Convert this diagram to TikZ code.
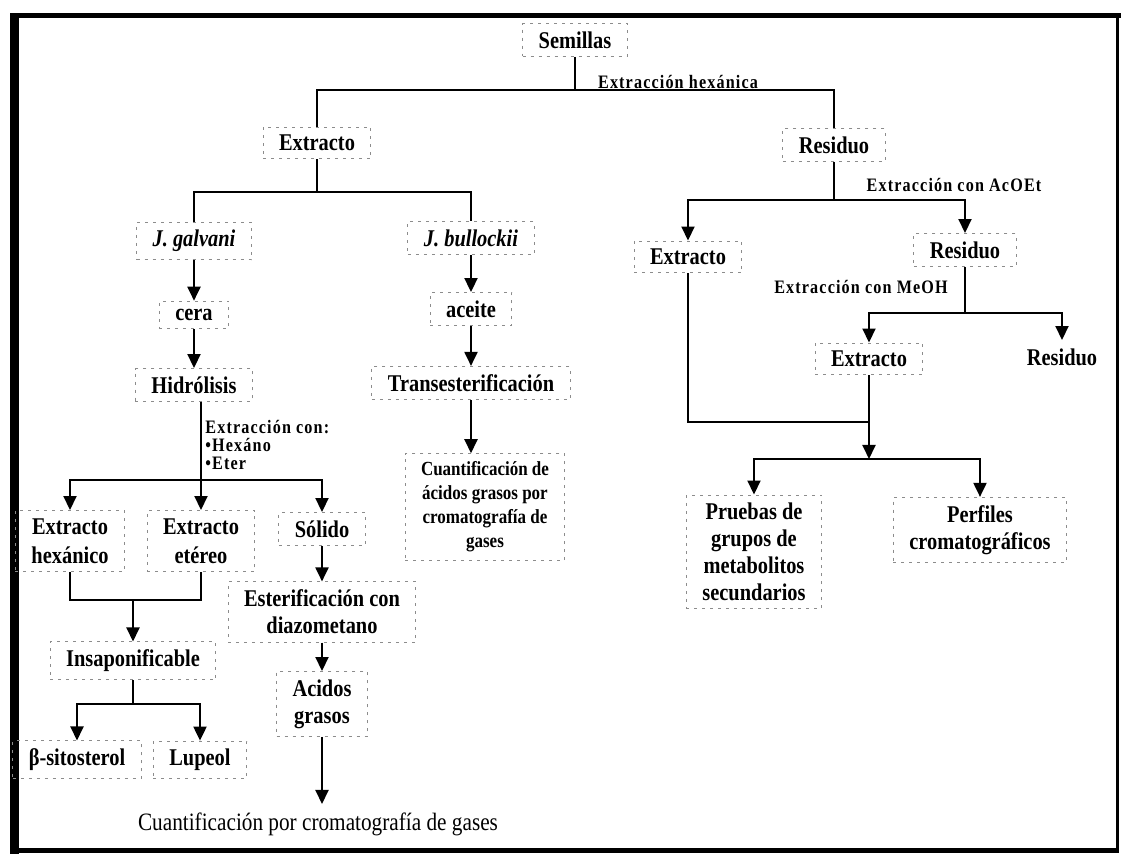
\documentclass[tikz,border=0pt]{standalone}
\usepackage{fontspec}
\setmainfont{Liberation Serif}[FakeStretch=0.85]
\newfontfamily\rotfont{Liberation Serif}[FakeStretch=0.85, LetterSpace=6]
\usetikzlibrary{arrows.meta}
\tikzset{
	caja/.style={draw=black!45, dash pattern=on 1.5pt off 2.5pt, line width=0.5pt, inner xsep=8pt, inner ysep=4pt, align=center, font=\fontsize{12}{13.5}\selectfont\bfseries},
	rotulo/.style={inner sep=0pt, align=left, font=\rotfont\fontsize{9.5}{9}\selectfont\bfseries},
	linea/.style={line width=1pt},
	flecha/.style={line width=1pt, -{Triangle[width=6.5pt,length=7pt]}}
}

\begin{document}
\begin{tikzpicture}[x=0.5pt, y=-0.5pt]
				\useasboundingbox (0,0) rectangle (1121,854);
				\fill[white] (0,0) rectangle (1121,854);

				\draw[line width=2.5pt] (10,16) -- (1121,16);
				\draw[line width=4.5pt] (14,16) -- (14,854);
				\draw[line width=2.5pt] (10,851) -- (1119,851);
				\draw[line width=1.5pt] (1117,16) -- (1117,851);

				\node[caja] (sem) at (575,40) {Semillas};
				\node[rotulo] (hexlbl) at (678,82) {Extracción hexánica};
				\node[caja] (ext1) at (317,143) {Extracto};
				\node[caja] (res1) at (834,145) {Residuo};

				\node[caja] (jgal) at (194,241) {\itshape J. galvani};
				\node[caja] (jbul) at (471,238) {\itshape J. bullockii};
				\node[caja] (cera) at (194,315) {cera};
				\node[caja] (aceite) at (471,309) {aceite};
				\node[caja] (hidro) at (194,385) {Hidrólisis};
				\node[caja] (trans) at (471,383) {Transesterificación};
				\node[caja, font=\fontsize{10}{12}\selectfont\bfseries] (cuantag) at (485,507) {Cuantificación de\\ácidos grasos por\\cromatografía de\\gases};

				\node[rotulo, anchor=north west] (hidlbl) at (205,420) {Extracción con:\\•Hexáno\\•Eter};
				\node[caja, font=\fontsize{12}{14.5}\selectfont\bfseries] (exthex) at (70,541) {Extracto\\hexánico};
				\node[caja, font=\fontsize{12}{14.5}\selectfont\bfseries] (exteter) at (201,541) {Extracto\\etéreo};
				\node[caja] (solido) at (322,529) {Sólido};
				\node[caja] (ester) at (322,612) {Esterificación con\\diazometano};
				\node[caja] (acidos) at (322,704) {Acidos\\grasos};
				\node[caja, draw=none, font=\fontsize{12.5}{14}\selectfont] (cuantgc) at (318,824) {Cuantificación por cromatografía de gases};
				\node[caja] (insap) at (133,661) {Insaponificable};
				\node[caja] (sito) at (77,760) {β-sitosterol};
				\node[caja] (lupeol) at (200,760) {Lupeol};

				\node[rotulo] (acoetlbl) at (954,185) {Extracción con AcOEt};
				\node[caja] (ext2) at (688,257) {Extracto};
				\node[caja] (res2) at (965,250) {Residuo};
				\node[rotulo] (meohlbl) at (861,287) {Extracción con MeOH};
				\node[caja] (ext3) at (869,359) {Extracto};
				\node[caja, draw=none] (res3) at (1062,357) {Residuo};
				\node[caja] (pruebas) at (754,552) {Pruebas de\\grupos de\\metabolitos\\secundarios};
				\node[caja] (perfiles) at (980,530) {Perfiles\\cromatográficos};

				\coordinate (j1) at (575,90);
				\draw[linea] (sem.south) -- (j1);
				\draw[linea] (ext1.north) |- (j1) -| (res1.north);

				\coordinate (j2) at (317,192);
				\draw[linea] (ext1.south) -- (j2);
				\draw[linea] (j2) -| (jgal.north);
				\draw[linea] (j2) -| (jbul.north);

				\draw[flecha] (jgal) -- (cera);
				\draw[flecha] (cera) -- (hidro);
				\draw[flecha] (jbul) -- (aceite);
				\draw[flecha] (aceite) -- (trans);
				\draw[flecha] (trans.south) -- (trans.south |- cuantag.north);

				\coordinate (j3) at (201,480);
				\draw[flecha] (hidro.south -| exteter.north) -- (exteter.north);
				\draw[flecha] (j3) -| (exthex.north);
				\draw[flecha] (j3) -| (solido.north);

				\coordinate (j4) at (133,600);
				\draw[linea] (exthex.south) |- (j4) -| (exteter.south);
				\draw[flecha] (j4) -- (insap.north);

				\coordinate (j5) at (133,704);
				\draw[linea] (insap.south) -- (j5);
				\draw[flecha] (j5) -| (sito.north);
				\draw[flecha] (j5) -| (lupeol.north);

				\draw[flecha] (solido) -- (ester);
				\draw[flecha] (ester) -- (acidos);
				\draw[flecha] (acidos.south) -- (acidos.south |- cuantgc.north);

				\coordinate (j6) at (834,200);
				\draw[linea] (res1.south) -- (j6);
				\draw[flecha] (j6) -| (ext2.north);
				\draw[flecha] (j6) -| (res2.north);

				\coordinate (j7) at (965,313);
				\draw[linea] (res2.south) -- (j7);
				\draw[flecha] (j7) -| (ext3.north);
				\draw[flecha] (j7) -| (res3.north);

				\coordinate (j8) at (869,422);
				\coordinate (j9) at (869,459);
				\draw[linea] (ext2.south) |- (j8);
				\draw[flecha] (ext3.south) -- (j9);
				\draw[flecha] (j9) -| (pruebas.north);
				\draw[flecha] (j9) -| (perfiles.north);
\end{tikzpicture}
\end{document}
